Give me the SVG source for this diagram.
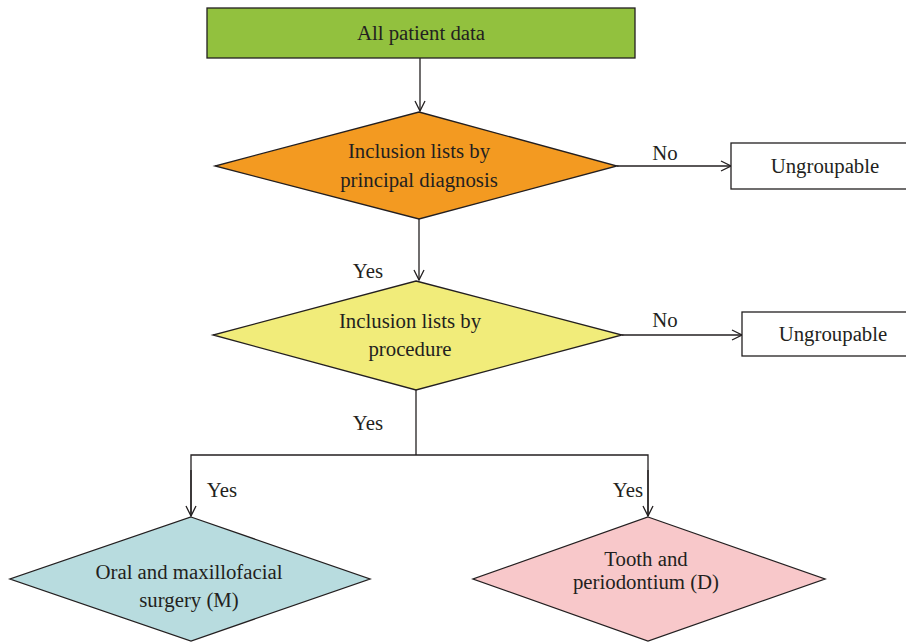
<svg xmlns="http://www.w3.org/2000/svg" width="906" height="642" viewBox="0 0 906 642">
  <style>
    .lbl { font-family: "Liberation Serif", "Times New Roman", serif; font-size: 20.8px; fill: #231f20; text-anchor: middle; dominant-baseline: central; }
    .shape { stroke: #231f20; stroke-width: 1.3; }
    .wire { stroke: #231f20; stroke-width: 1.3; fill: none; }
  </style>
  <defs>
    <marker id="arrow" viewBox="0 0 12 12" refX="11" refY="6" markerWidth="12" markerHeight="12" markerUnits="userSpaceOnUse" orient="auto">
      <polyline points="1,1 11,6 1,11" fill="none" stroke="#231f20" stroke-width="1.3"/>
    </marker>
  </defs>

  <rect width="906" height="642" fill="#ffffff"/>

  <!-- connectors -->
  <g id="connectors">
    <line class="wire" x1="420" y1="58" x2="420" y2="111" marker-end="url(#arrow)"/>
    <line class="wire" x1="617" y1="166" x2="731" y2="166" marker-end="url(#arrow)"/>
    <line class="wire" x1="419" y1="219" x2="419" y2="280" marker-end="url(#arrow)"/>
    <line class="wire" x1="622" y1="335" x2="742" y2="335" marker-end="url(#arrow)"/>
    <polyline class="wire" points="416,390 416,455"/>
    <polyline class="wire" points="191,515 191,455 648,455 648,516" />
    <line class="wire" x1="191" y1="470" x2="191" y2="516" marker-end="url(#arrow)"/>
    <line class="wire" x1="648" y1="470" x2="648" y2="516" marker-end="url(#arrow)"/>
    <text class="lbl" x="665" y="152">No</text>
    <text class="lbl" x="368" y="270">Yes</text>
    <text class="lbl" x="665" y="319">No</text>
    <text class="lbl" x="368" y="422">Yes</text>
    <text class="lbl" x="222" y="489">Yes</text>
    <text class="lbl" x="628" y="489">Yes</text>
  </g>

  <g id="all-data">
    <rect class="shape" x="207" y="8" width="428" height="50" fill="#92c13e"/>
    <text class="lbl" x="421" y="32">All patient data</text>
  </g>

  <g id="diagnosis">
    <polygon class="shape" points="419,112 617,166 419,219 215,166" fill="#f39a21"/>
    <text class="lbl" x="419" y="150">Inclusion lists by</text>
    <text class="lbl" x="419" y="179">principal diagnosis</text>
  </g>

  <g id="ungroupable-1">
    <rect class="shape" x="731" y="143" width="190" height="46" fill="#ffffff"/>
    <text class="lbl" x="825" y="165">Ungroupable</text>
  </g>

  <g id="procedure">
    <polygon class="shape" points="416,281 622,335 416,390 213,335" fill="#f1ec7a"/>
    <text class="lbl" x="410" y="320">Inclusion lists by</text>
    <text class="lbl" x="410" y="348">procedure</text>
  </g>

  <g id="ungroupable-2">
    <rect class="shape" x="742" y="312" width="180" height="44" fill="#ffffff"/>
    <text class="lbl" x="833" y="333">Ungroupable</text>
  </g>

  <g id="surgery">
    <polygon class="shape" points="191,517 370,579 191,641 10,579" fill="#b8dcdf"/>
    <text class="lbl" x="189" y="571">Oral and maxillofacial</text>
    <text class="lbl" x="189" y="599">surgery (M)</text>
  </g>

  <g id="tooth">
    <polygon class="shape" points="648,517 825,579 648,641 473,579" fill="#f8c8ca"/>
    <text class="lbl" x="646" y="558">Tooth and</text>
    <text class="lbl" x="646" y="581">periodontium (D)</text>
  </g>
</svg>
